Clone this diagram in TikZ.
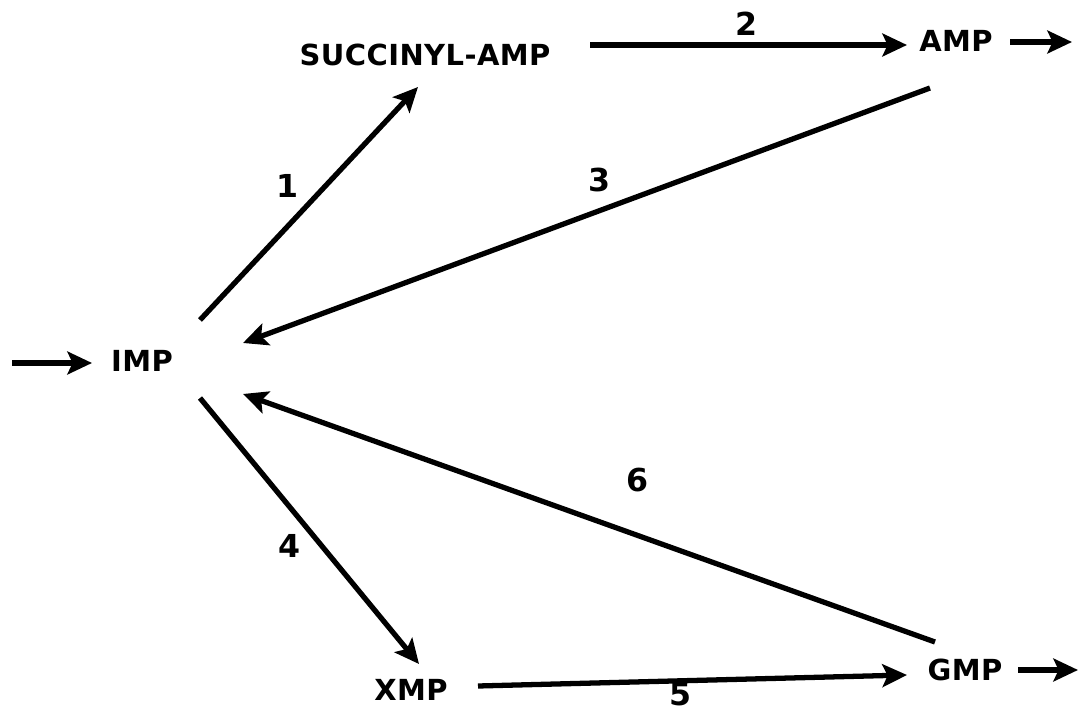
\documentclass[tikz,border=0pt]{standalone}
\usepackage{fontspec}
\setmainfont{DejaVu Sans}[LetterSpace=1.5]
\usetikzlibrary{arrows.meta}
\begin{document}
\begin{tikzpicture}[x=0.02cm,y=-0.02cm,
  lbl/.style={font=\fontsize{16.5}{18}\selectfont\bfseries, inner sep=0pt},
  num/.style={font=\fontsize{18}{20}\selectfont\bfseries, inner sep=0pt},
  rx/.style={line width=3pt, -{Stealth[length=14pt,width=13pt,inset=3pt]}}]
\useasboundingbox (0,0) rectangle (1080,713);
% compounds
\node[lbl] (imp) at (142,361) {IMP};
\node[lbl] (succ) at (425,55) {SUCCINYL-AMP};
\node[lbl] (amp) at (956,41) {AMP};
\node[lbl] (xmp) at (411,690) {XMP};
\node[lbl] (gmp) at (965,670) {GMP};
% arrow end points
\coordinate (in0) at (12,363);
\coordinate (in1) at (92,363);
\coordinate (ao0) at (1010,42);
\coordinate (ao1) at (1072,42);
\coordinate (go0) at (1018,670);
\coordinate (go1) at (1078,670);
\coordinate (a1s) at (200,320);
\coordinate (a1e) at (418,87);
\coordinate (a2s) at (590,45);
\coordinate (a2e) at (907,45);
\coordinate (a3s) at (930,88);
\coordinate (a3e) at (243,343);
\coordinate (a4s) at (200,398);
\coordinate (a4e) at (419,664);
\coordinate (a5s) at (478,686);
\coordinate (a5e) at (907,675);
\coordinate (a6s) at (935,642);
\coordinate (a6e) at (243,394);
% reactions
\draw[rx] (in0) -- (in1);
\draw[rx] (ao0) -- (ao1);
\draw[rx] (go0) -- (go1);
\draw[rx] (a1s) -- (a1e);
\draw[rx] (a2s) -- (a2e);
\draw[rx] (a3s) -- (a3e);
\draw[rx] (a4s) -- (a4e);
\draw[rx] (a5s) -- (a5e);
\draw[rx] (a6s) -- (a6e);
% labels
\node[num] (n1) at (288,186) {1};
\node[num] (n2) at (746,24) {2};
\node[num] (n3) at (600,180) {3};
\node[num] (n4) at (290,546) {4};
\node[num] (n5) at (681,694) {5};
\node[num] (n6) at (637,480) {6};
\end{tikzpicture}
\end{document}
